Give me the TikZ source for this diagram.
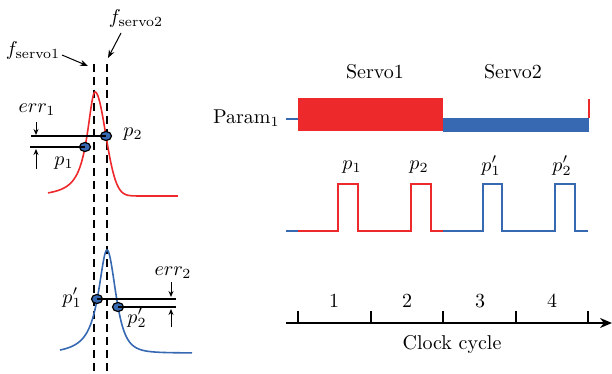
\documentclass[tikz,border=0pt]{standalone}
\usetikzlibrary{arrows.meta,shapes.geometric}
\definecolor{cred}{RGB}{237,41,43}
\definecolor{cblue}{RGB}{55,105,178}
\begin{document}
\begin{tikzpicture}[x=0.5pt,y=-0.5pt,
  lab/.style={inner sep=0pt, font=\normalsize},
  dot/.style={ellipse, draw=black, line width=0.6pt, fill=cblue, minimum width=5.5pt, minimum height=4.5pt, inner sep=0pt},
  guide/.style={dash pattern=on 4pt off 2.5pt, line width=1pt},
  marker/.style={line width=1pt},
  curvered/.style={cred, line width=0.8pt},
  curveblue/.style={cblue, line width=0.8pt},
  errarrow/.style={-{Stealth[length=3pt,width=2.5pt]}, line width=0.5pt},
  ptr/.style={-{Stealth[length=4pt,width=3pt]}, line width=0.5pt},
  pulse/.style={line width=0.9pt},
  axisline/.style={line width=0.9pt, -{Stealth[length=6pt,width=5pt]}},
  tick/.style={line width=0.9pt},
]
\useasboundingbox (0,0) rectangle (612,374);

% ---------- left panel ----------
\coordinate (g1t) at (94,64); \coordinate (g1b) at (94,374);
\coordinate (g2t) at (107,64); \coordinate (g2b) at (107,374);
\draw[guide] (g1t) -- (g1b);
\draw[guide] (g2t) -- (g2b);

\node[lab] (fs1) at (33,51) {$f_{\mathrm{servo1}}$};
\node[lab] (fs2) at (136,19) {$f_{\mathrm{servo2}}$};
\coordinate (fs1a) at (62,55); \coordinate (fs1b) at (88,66);
\coordinate (fs2a) at (121,33); \coordinate (fs2b) at (108,58);
\draw[ptr] (fs1a) -- (fs1b);
\draw[ptr] (fs2a) -- (fs2b);

% red resonance
\draw[curvered] plot[domain=48:95, samples=60] (\x, {197-105/(1+((\x-95)/9.5)^2)})
  -- plot[domain=95:178, samples=90] (\x, {196-104*exp(-((\x-95)/10.5)^2/2)});
% blue resonance
\draw[curveblue] plot[domain=60:107, samples=60] (\x, {355-105/(1+((\x-107)/10.5)^2)})
  -- plot[domain=107:192, samples=90] (\x, {353-103/(1+((\x-107)/15.7)^2)^2});

\node[dot] (p1) at (85,147) {};
\node[dot] (p2) at (106,136) {};
\node[dot] (q1) at (97,299) {};
\node[dot] (q2) at (118,307) {};

\coordinate (l1) at (30,147); \coordinate (l2) at (31,136);
\coordinate (r1) at (176,299); \coordinate (r2) at (176,307);
\draw[marker] (l2) -- (p2.center);
\draw[marker] (l1) -- (p1.center);
\draw[marker] (q1.center) -- (r1);
\draw[marker] (q2.center) -- (r2);

\coordinate (e1a) at (36,122); \coordinate (e1b) at (36,135);
\coordinate (e1c) at (36,169); \coordinate (e1d) at (36,149);
\draw[errarrow] (e1a) -- (e1b);
\draw[errarrow] (e1c) -- (e1d);
\coordinate (e2a) at (171,282); \coordinate (e2b) at (171,297);
\coordinate (e2c) at (171,327); \coordinate (e2d) at (171,309);
\draw[errarrow] (e2a) -- (e2b);
\draw[errarrow] (e2c) -- (e2d);

\node[lab] (err1) at (37,110) {$err_1$};
\node[lab] (err2) at (173,273) {$err_2$};
\node[lab] (lp1) at (64,163) {$p_1$};
\node[lab] (lp2) at (133,134) {$p_2$};
\node[lab] (lq1) at (72,298) {$p_1'$};
\node[lab] (lq2) at (137,318) {$p_2'$};

% ---------- right panel ----------
\node[lab] (sv1) at (375,72) {Servo1};
\node[lab] (sv2) at (513,72) {Servo2};
\node[lab, anchor=east] (param) at (280,118) {Param$_1$};
\coordinate (pa) at (286,119); \coordinate (pb) at (298,119);
\draw[cblue, line width=0.9pt] (pa) -- (pb);
\fill[cred] (298,98) rectangle (443,131);
\fill[cblue] (443,118) rectangle (589,132);
\coordinate (rv1) at (589,99); \coordinate (rv2) at (589,118);
\draw[cred, line width=0.8pt] (rv1) -- (rv2);

% pulses
\coordinate (ps0) at (286,231); \coordinate (ps1) at (298,231);
\draw[cblue, pulse] (ps0) -- (ps1);
\draw[cred, pulse] (ps1) -- (338,231) -- (338,184) -- (358,184) -- (358,231) -- (411,231) -- (411,184) -- (431,184) -- (431,231) -- (443,231);
\draw[cblue, pulse] (443,231) -- (483,231) -- (483,184) -- (502,184) -- (502,231) -- (555,231) -- (555,184) -- (575,184) -- (575,231) -- (588,231);
\node[lab] (tp1) at (352,167) {$p_1$};
\node[lab] (tp2) at (419,167) {$p_2$};
\node[lab] (tq1) at (491,166) {$p_1'$};
\node[lab] (tq2) at (562,166) {$p_2'$};

% clock axis
\coordinate (ax0) at (286,323); \coordinate (ax1) at (612,323);
\draw[axisline] (ax0) -- (ax1);
\foreach \x in {298,371,443,516,588} {\draw[tick] (\x,311) -- (\x,323);}
\node[lab] (c1) at (334,301) {1};
\node[lab] (c2) at (407,301) {2};
\node[lab] (c3) at (480,301) {3};
\node[lab] (c4) at (552,301) {4};
\node[lab] (clk) at (452,345) {Clock cycle};
\end{tikzpicture}
\end{document}
